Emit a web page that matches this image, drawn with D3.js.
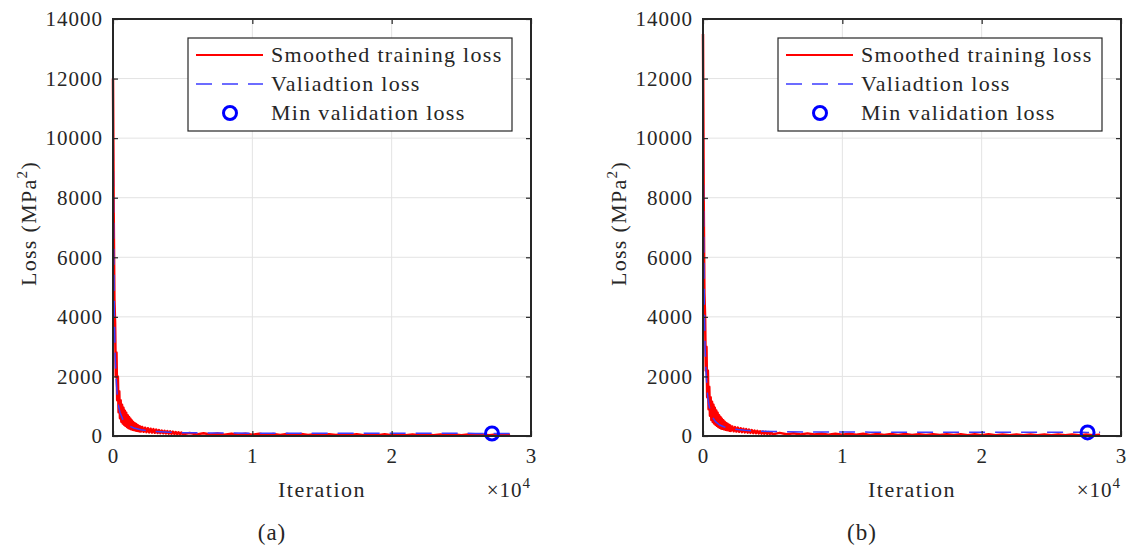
<!DOCTYPE html>
<html>
<head>
<meta charset="utf-8">
<script src="https://d3js.org/d3.v7.min.js"></script>
<style>
body { margin: 0; background: #fff; }
</style>
</head>
<body>
<svg width="1127" height="551"></svg>
<script>
// iteration of each smoothed training loss sample
var trainIter = [0, 50, 100, 150, 200, 250, 300, 350, 400, 450, 500, 550, 600, 650, 700, 750, 800, 850, 900, 950,
  1000, 1050, 1100, 1150, 1200, 1250, 1300, 1350, 1400, 1450, 1500, 1550, 1600, 1650, 1700, 1750, 1800, 1850, 1900, 1950, 2000,
  2100, 2200, 2300, 2400, 2500, 2600, 2700, 2800, 2900, 3000, 3100, 3200, 3300, 3400, 3500, 3600, 3700, 3800, 3900, 4000,
  4100, 4200, 4300, 4400, 4500, 4600, 4700, 4800, 4900, 5000,
  5500, 6000, 6500, 7000, 7500, 8000, 8500, 9000, 9500, 10000, 10500, 11000, 11500, 12000, 12500, 13000, 13500, 14000,
  14500, 15000, 15500, 16000, 16500, 17000, 17500, 18000, 18500, 19000, 19500, 20000, 20500, 21000, 21500, 22000,
  22500, 23000, 23500, 24000, 24500, 25000, 25500, 26000, 26500, 27000, 27500, 28000, 28500];

var trainLossA = [12000, 7500, 4600, 3800, 2000, 2800, 1200, 2000, 800, 1500, 600, 1200, 480, 1050, 420, 950, 380, 850, 340, 780,
  300, 700, 270, 640, 250, 580, 230, 520, 210, 470, 200, 430, 185, 400, 175, 370, 165, 340, 155, 320, 150,
  300, 140, 280, 130, 260, 122, 245, 115, 230, 108, 215, 100, 200, 95, 185, 90, 175, 85, 165, 80,
  155, 75, 145, 70, 135, 66, 125, 62, 118, 58,
  100, 55, 92, 50, 85, 46, 80, 42, 75, 40, 72, 38, 70, 36, 66, 34, 64, 33,
  62, 32, 60, 30, 58, 30, 57, 29, 56, 28, 55, 28, 54, 27, 53, 27,
  52, 26, 52, 26, 51, 25, 50, 25, 50, 24, 49, 24, 40];

var trainLossB = [13500, 8000, 4800, 4000, 2200, 3000, 1300, 2200, 900, 1650, 680, 1300, 540, 1150, 470, 1050, 420, 950, 380, 860,
  340, 780, 300, 700, 280, 640, 255, 580, 240, 530, 225, 480, 210, 440, 200, 410, 190, 380, 180, 350, 170,
  320, 160, 300, 150, 280, 140, 260, 130, 245, 122, 230, 114, 215, 105, 200, 98, 185, 92, 175, 86,
  160, 80, 150, 75, 140, 70, 130, 66, 122, 62,
  105, 58, 95, 52, 88, 48, 82, 44, 78, 42, 75, 40, 72, 38, 68, 36, 66, 35,
  64, 34, 62, 32, 60, 31, 58, 30, 57, 29, 56, 29, 55, 28, 54, 28,
  53, 27, 52, 27, 51, 26, 50, 26, 50, 25, 49, 25, 40];

// validation checkpoints
var valIter = [0, 30, 60, 100, 150, 200, 300, 400, 500, 700, 900, 1200, 1500, 2000, 2500, 3000, 4000, 5000, 6000,
  8000, 10000, 12000, 14000, 16000, 18000, 20000, 22000, 24000, 26000, 27200, 27600, 28500];
var valLossA = [12400, 8500, 6000, 4000, 2800, 2100, 1400, 1000, 800, 560, 440, 330, 270, 210, 175, 150, 125, 112, 105,
  98, 95, 93, 92, 91, 90, 90, 89, 89, 88, 85, 88, 88];
var valLossB = [12800, 8800, 6200, 4200, 3000, 2300, 1500, 1100, 880, 620, 480, 370, 310, 250, 215, 190, 165, 150, 142,
  135, 132, 130, 129, 128, 127, 127, 126, 126, 125, 124, 120, 125];

var yTicks = [0, 2000, 4000, 6000, 8000, 10000, 12000, 14000];
var xTicks = [0, 10000, 20000, 30000];
var legendLabels = ["Smoothed training loss", "Valiadtion loss", "Min validation loss"];
var panelLabels = ["(a)", "(b)"];

var svg = d3.select("svg"),
  width = +svg.attr("width"),
  height = +svg.attr("height");

var pw = 418, ph = 417;
var ink = "#262626";

var x = d3.scaleLinear().domain([0, 30000]).range([0, pw]);
var y = d3.scaleLinear().domain([0, 14000]).range([ph, 0]);

var line = d3.line()
  .x(function(d) { return x(d[0]); })
  .y(function(d) { return y(d[1]); });

function serif(sel, size, spacing) {
  return sel.style("font-family", "'Liberation Serif', serif")
    .style("font-size", size + "px")
    .style("letter-spacing", (spacing || 1) + "px")
    .style("fill", ink);
}

function tickLines(sel) {
  sel.select(".domain").remove();
  sel.selectAll(".tick line").attr("stroke", ink).attr("stroke-width", 1.2);
}

function drawPanel(left, trainLoss, valLoss, label) {
  var g = svg.append("g").attr("transform", "translate(" + left + ",19)");

  // grid
  g.selectAll(".gx").data(xTicks.slice(1, -1)).enter().append("line")
    .attr("x1", x).attr("x2", x).attr("y1", 0).attr("y2", ph)
    .attr("stroke", "#e3e3e3").attr("stroke-width", 1);
  g.selectAll(".gy").data(yTicks.slice(1, -1)).enter().append("line")
    .attr("y1", y).attr("y2", y).attr("x1", 0).attr("x2", pw)
    .attr("stroke", "#e3e3e3").attr("stroke-width", 1);

  var train = trainIter.map(function(d, i) { return [d, trainLoss[i]]; });
  var val = valIter.map(function(d, i) { return [d, valLoss[i]]; });

  g.append("path").datum(train)
    .attr("d", line).attr("fill", "none")
    .attr("stroke", "#ff0000").attr("stroke-width", 2.5).attr("stroke-linejoin", "round");

  g.append("path").datum(val)
    .attr("d", line).attr("fill", "none")
    .attr("stroke", "#3c3cff").attr("stroke-width", 1.5)
    .attr("stroke-dasharray", "16,10");

  var mi = d3.minIndex(valLoss);
  g.append("circle")
    .attr("cx", x(valIter[mi])).attr("cy", y(valLoss[mi])).attr("r", 6.5)
    .attr("fill", "none").attr("stroke", "#0000ff").attr("stroke-width", 3);

  // axes: ticks inside, on all sides
  var gl = g.append("g")
    .call(d3.axisLeft(y).tickValues(yTicks).tickSizeInner(-5).tickSizeOuter(0).tickPadding(10)
      .tickFormat(d3.format("d")));
  tickLines(gl);
  serif(gl.selectAll(".tick text"), 21);

  var gr = g.append("g").attr("transform", "translate(" + pw + ",0)")
    .call(d3.axisRight(y).tickValues(yTicks).tickSizeInner(-5).tickSizeOuter(0).tickFormat(""));
  tickLines(gr);

  var gb = g.append("g").attr("transform", "translate(0," + ph + ")")
    .call(d3.axisBottom(x).tickValues(xTicks).tickSizeInner(-5).tickSizeOuter(0).tickPadding(12)
      .tickFormat(function(d) { return d / 10000; }));
  tickLines(gb);
  serif(gb.selectAll(".tick text"), 21);

  var gt = g.append("g")
    .call(d3.axisTop(x).tickValues(xTicks).tickSizeInner(-5).tickSizeOuter(0).tickFormat(""));
  tickLines(gt);

  g.append("rect")
    .attr("width", pw).attr("height", ph)
    .attr("fill", "none").attr("stroke", ink).attr("stroke-width", 2);

  // axis titles
  serif(g.append("text"), 22, 1.5)
    .attr("x", pw / 2).attr("y", ph + 61)
    .attr("text-anchor", "middle")
    .text("Iteration");

  var ex = serif(g.append("text"), 21)
    .attr("x", pw).attr("y", ph + 61)
    .attr("text-anchor", "end");
  ex.append("tspan").text("\u00d710");
  ex.append("tspan").attr("dy", -9).style("font-size", "15px").text("4");

  var yl = serif(g.append("text"), 22, 1.3)
    .attr("transform", "translate(-77," + (ph / 2 - 4) + ") rotate(-90)")
    .attr("text-anchor", "middle");
  yl.append("tspan").text("Loss (MPa");
  yl.append("tspan").attr("dy", -9).style("font-size", "15px").text("2");
  yl.append("tspan").attr("dy", 9).text(")");

  serif(g.append("text"), 23)
    .attr("x", pw / 2 - 50).attr("y", ph + 104)
    .attr("text-anchor", "middle")
    .text(label);

  // legend
  var lg = g.append("g").attr("transform", "translate(75,19)");
  lg.append("rect")
    .attr("width", 324).attr("height", 93)
    .attr("fill", "#fff").attr("stroke", ink).attr("stroke-width", 1.2);
  var rows = lg.selectAll(".row").data(legendLabels).enter().append("g")
    .attr("transform", function(d, i) { return "translate(0," + (17 + i * 29) + ")"; });
  serif(rows.append("text"), 22, 1.3)
    .attr("x", 83).attr("y", 7).attr("text-anchor", "start")
    .text(function(d) { return d; });
  rows.filter(function(d, i) { return i == 0; }).append("line")
    .attr("x1", 8).attr("x2", 75).attr("stroke", "#ff0000").attr("stroke-width", 2.2);
  rows.filter(function(d, i) { return i == 1; }).append("line")
    .attr("x1", 8).attr("x2", 75).attr("stroke", "#3c3cff").attr("stroke-width", 1.5)
    .attr("stroke-dasharray", "16,10");
  rows.filter(function(d, i) { return i == 2; }).append("circle")
    .attr("cx", 42).attr("r", 6.5)
    .attr("fill", "none").attr("stroke", "#0000ff").attr("stroke-width", 3);
}

drawPanel(113, trainLossA, valLossA, panelLabels[0]);
drawPanel(703, trainLossB, valLossB, panelLabels[1]);
</script>
</body>
</html>
